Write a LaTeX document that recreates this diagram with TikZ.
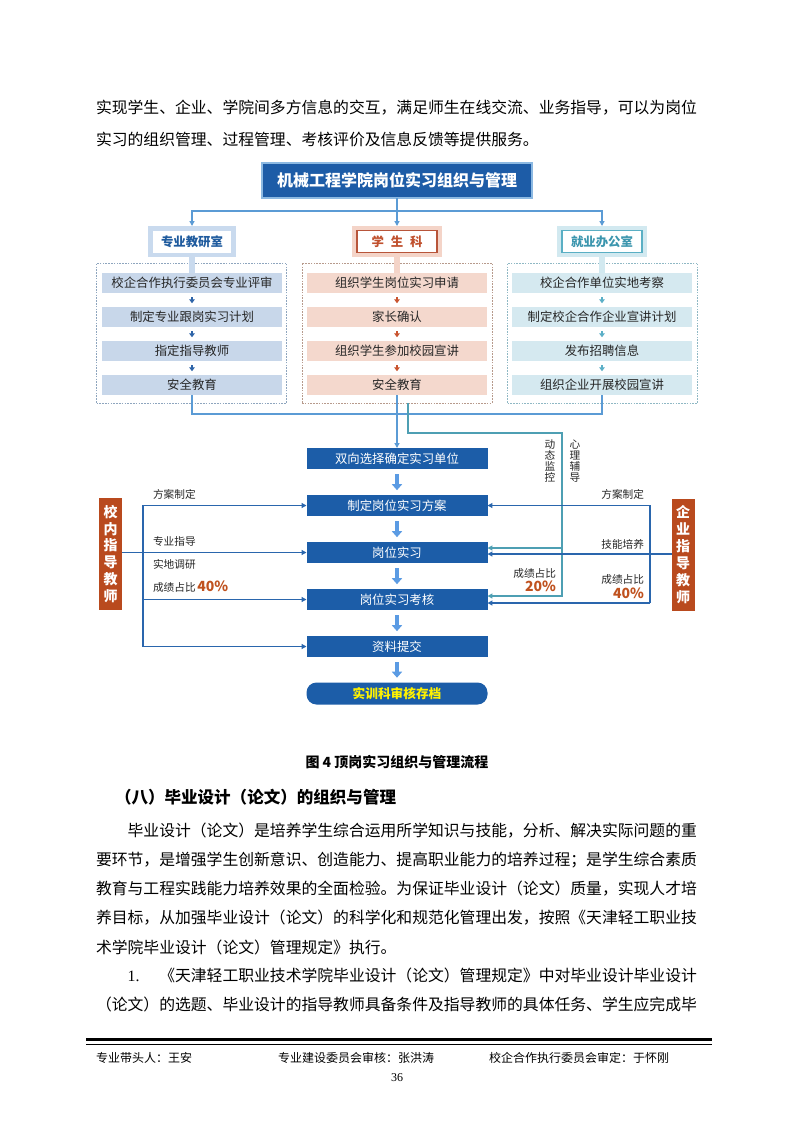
\documentclass[tikz,border=0pt]{standalone}
\usepackage{fontspec}
\setmainfont{Noto Sans CJK SC}
\newfontfamily\serifnum{Liberation Serif}
\usetikzlibrary{arrows.meta,calc}
\definecolor{titleblue}{HTML}{1D5CA7}
\definecolor{mainblue}{HTML}{1C5DA8}
\definecolor{fatarrow}{HTML}{5B9BE3}
\definecolor{topline}{HTML}{5B9BD5}
\definecolor{dkline}{HTML}{2A66AD}
\definecolor{tealline}{HTML}{4E9FB3}
\definecolor{redbox}{HTML}{B94A1E}
\definecolor{pct}{HTML}{C0521F}
\definecolor{lframe}{HTML}{C9DAEE}
\definecolor{ltext}{HTML}{1F5B9E}
\definecolor{lrow}{HTML}{C8D7EA}
\definecolor{larrow}{HTML}{2E64A8}
\definecolor{ldash}{HTML}{8EA5BE}
\definecolor{mframe}{HTML}{F4D4C8}
\definecolor{mborder}{HTML}{B8553A}
\definecolor{mtext}{HTML}{C0502D}
\definecolor{mrow}{HTML}{F4D8CD}
\definecolor{marrow}{HTML}{C9542F}
\definecolor{mdash}{HTML}{B79A8C}
\definecolor{rframe}{HTML}{D2E9F0}
\definecolor{rborder}{HTML}{5AAFC4}
\definecolor{rtext}{HTML}{3C96AE}
\definecolor{rrow}{HTML}{D5E9F0}
\definecolor{rarrow}{HTML}{5BAFC7}
\definecolor{rdash}{HTML}{8FB8C4}
\definecolor{inktext}{HTML}{262626}
\begin{document}
\begin{tikzpicture}[x=0.75pt,y=-0.75pt,
  every node/.style={inner sep=0pt,outer sep=0pt},
  bodytxt/.style={anchor=west,font=\fontsize{11.86pt}{12pt}\selectfont,text=black},
  mainbox/.style={fill=mainblue,minimum width=135.75pt,minimum height=15.75pt,text=white,font=\fontsize{9.3pt}{10pt}\selectfont},
  rowbox/.style={minimum width=135pt,minimum height=15pt,text=inktext,font=\fontsize{9.3pt}{10pt}\selectfont},
  dashbox/.style={draw,dash pattern=on 1.2pt off 0.9pt,line width=0.6pt,minimum width=142.5pt,minimum height=105pt},
  hdrouter/.style={minimum width=66pt,minimum height=23.25pt},
  hdrinner/.style={fill=white,minimum width=58.5pt,minimum height=16.5pt,font=\bfseries\fontsize{9.3pt}{10pt}\selectfont,line width=0.8pt},
  stem/.style={line width=4.5pt},
  smallarrow/.style={line width=1.4pt,-{Triangle[length=3pt,width=4.2pt]},shorten <=3pt,shorten >=2.8pt},
  fatarrowstyle/.style={draw=fatarrow,line width=2.6pt,-{Triangle[length=4.5pt,width=7.5pt]},shorten <=3.8pt,shorten >=3.6pt},
  tip/.style={-{Triangle[length=3.6pt,width=3.6pt]}},
  bline/.style={draw=topline,line width=1pt},
  dline/.style={draw=dkline,line width=1pt},
  tline/.style={draw=tealline,line width=1pt},
  redteacher/.style={fill=redbox,minimum width=17.25pt,minimum height=84pt,text=white,align=center,font=\bfseries\fontsize{10.5pt}{12.7pt}\selectfont},
  lbl/.style={text=inktext,font=\fontsize{8pt}{9pt}\selectfont},
  pcttxt/.style={text=pct,font=\bfseries\fontsize{10.5pt}{11pt}\selectfont},
  vlbl/.style={text=inktext,align=center,font=\fontsize{8pt}{8.1pt}\selectfont},
  foot/.style={anchor=west,text=black,font=\fontsize{9pt}{10pt}\selectfont}
]
\fill[white] (0,0) rectangle (793,1122);
\useasboundingbox (0,0) rectangle (793,1122);

% ---------- top paragraph ----------
\node[bodytxt] (p1) at (96,108) {实现学生、企业、学院间多方信息的交互，满足师生在线交流、业务指导，可以为岗位};
\node[bodytxt] (p2) at (96,139) {实习的组织管理、过程管理、考核评价及信息反馈等提供服务。};

% ---------- title ----------
\node[fill=titleblue,draw=topline!70,line width=0.8pt,minimum width=202.5pt,minimum height=26.25pt,text=white,font=\bfseries\fontsize{12pt}{13pt}\selectfont] (title) at (397,180.5) {机械工程学院岗位实习组织与管理};

% ---------- dashed group boxes ----------
\node[dashbox,draw=ldash] (d1) at (191.5,333) {};
\node[dashbox,draw=mdash] (d2) at (397,333) {};
\node[dashbox,draw=rdash] (d3) at (602.5,333) {};

% ---------- rows ----------
\node[rowbox,fill=lrow] (r11) at (192,283) {校企合作执行委员会专业评审};
\node[rowbox,fill=lrow] (r12) at (192,317) {制定专业跟岗实习计划};
\node[rowbox,fill=lrow] (r13) at (192,351) {指定指导教师};
\node[rowbox,fill=lrow] (r14) at (192,385) {安全教育};
\node[rowbox,fill=mrow] (r21) at (397,283) {组织学生岗位实习申请};
\node[rowbox,fill=mrow] (r22) at (397,317) {家长确认};
\node[rowbox,fill=mrow] (r23) at (397,351) {组织学生参加校园宣讲};
\node[rowbox,fill=mrow] (r24) at (397,385) {安全教育};
\node[rowbox,fill=rrow] (r31) at (602,283) {校企合作单位实地考察};
\node[rowbox,fill=rrow] (r32) at (602,317) {制定校企合作企业宣讲计划};
\node[rowbox,fill=rrow] (r33) at (602,351) {发布招聘信息};
\node[rowbox,fill=rrow] (r34) at (602,385) {组织企业开展校园宣讲};

\draw[smallarrow,draw=larrow] (r11.south) -- (r12.north);
\draw[smallarrow,draw=larrow] (r12.south) -- (r13.north);
\draw[smallarrow,draw=larrow] (r13.south) -- (r14.north);
\draw[smallarrow,draw=marrow] (r21.south) -- (r22.north);
\draw[smallarrow,draw=marrow] (r22.south) -- (r23.north);
\draw[smallarrow,draw=marrow] (r23.south) -- (r24.north);
\draw[smallarrow,draw=rarrow] (r31.south) -- (r32.north);
\draw[smallarrow,draw=rarrow] (r32.south) -- (r33.north);
\draw[smallarrow,draw=rarrow] (r33.south) -- (r34.north);

% ---------- headers ----------
\node[hdrouter,fill=lframe] (h1o) at (192,241.5) {};
\node[hdrouter,fill=mframe,minimum width=68pt] (h2o) at (397,241.5) {};
\node[hdrouter,fill=rframe,minimum width=68pt] (h3o) at (602,241.5) {};
\node[hdrinner,text=ltext] (h1) at (h1o.center) {专业教研室};
\node[hdrinner,draw=mborder,text=mtext,minimum width=60pt] (h2) at (h2o.center) {学\hspace{0.55em}生\hspace{0.55em}科};
\node[hdrinner,draw=rborder,text=rtext,minimum width=60pt] (h3) at (h3o.center) {就业办公室};

\draw[stem,draw=lframe] (h1o.south) -- (r11.north);
\draw[stem,draw=mframe] (h2o.south) -- (r21.north);
\draw[stem,draw=rframe] (h3o.south) -- (r31.north);

% ---------- title connectors ----------
\path (title.south) ++(0,13) coordinate (tj);
\draw[bline,tip] (title.south) -- (h2o.north);
\draw[bline,tip] (tj) -| (h1o.north);
\draw[bline,tip] (tj) -| (h3o.north);

% ---------- main flow ----------
\node[mainbox] (m1) at (397,458.5) {双向选择确定实习单位};
\node[mainbox] (m2) at (397,505.5) {制定岗位实习方案};
\node[mainbox] (m3) at (397,552.5) {岗位实习};
\node[mainbox] (m4) at (397,599.5) {岗位实习考核};
\node[mainbox] (m5) at (397,646.5) {资料提交};
\node[mainbox,rounded corners=7.5pt,minimum height=16.5pt,text=yellow,font=\bfseries\fontsize{9.5pt}{10pt}\selectfont] (m6) at (397,693.5) {实训科审核存档};

\draw[fatarrowstyle] (m1.south) -- (m2.north);
\draw[fatarrowstyle] (m2.south) -- (m3.north);
\draw[fatarrowstyle] (m3.south) -- (m4.north);
\draw[fatarrowstyle] (m4.south) -- (m5.north);
\draw[fatarrowstyle] (m5.south) -- (m6.north);

% groups to main flow
\draw[bline] (r14.south) -- ++(0,19) -| (r34.south);
\draw[bline,tip] (r24.south) -- (m1.north);

\coordinate (tx) at (562,0);
\coordinate (tdown) at ($(d2.south)+(11,30)$);
\draw[tline,tip] ($(d2.south)+(11,0)$) -- (tdown) -| ($(tx |- m4.east)+(0,-3.5)$) -- ($(m4.east)+(0,-3.5)$);
\draw[tline,tip] ($(tx |- m3.east)+(0,-4.5)$) -- ($(m3.east)+(0,-4.5)$);

\node[vlbl] (v1) at (550,461) {动\\态\\监\\控};
\node[vlbl] (v2) at (575,461) {心\\理\\辅\\导};

% ---------- teachers ----------
\node[redteacher] (lt) at (110.5,554) {校\\内\\指\\导\\教\\师};
\node[redteacher] (rt) at (683,554.5) {企\\业\\指\\导\\教\\师};

\coordinate (lx) at (143,0);
\draw[dline,tip] (lt.east |- m3.west) -- (m3.west);
\draw[dline,tip] (lx |- m5.west) |- (m2.west);
\draw[dline,tip] (lx |- m4.west) -- (m4.west);
\draw[dline,tip] (lx |- m5.west) -- (m5.west);

\coordinate (rx) at (650,0);
\draw[dline,tip] ($(rx |- m4.east)+(0,3.5)$) |- (m2.east);
\draw[dline,tip] ($(rx |- m4.east)+(0,3.5)$) -- ($(m4.east)+(0,3.5)$);
\draw[dline,tip] ($(rt.west |- m3.east)+(0,1.5)$) -- ($(m3.east)+(0,1.5)$);

\node[lbl,anchor=west] (la) at (153,494) {方案制定};
\node[lbl,anchor=west] (lb) at (153,541) {专业指导};
\node[lbl,anchor=west] (lc) at (153,564) {实地调研};
\node[lbl,anchor=west] (ld) at (153,587) {成绩占比\,{\color{pct}\bfseries\fontsize{10.5pt}{11pt}\selectfont 40\%}};

\node[lbl,anchor=east] (ra) at (644,494) {方案制定};
\node[lbl,anchor=east] (rb) at (644,544) {技能培养};
\node[lbl,anchor=east] (rc) at (644,579) {成绩占比};
\node[pcttxt,anchor=east] (rd) at (644,593) {40\%};
\node[lbl,anchor=east] (mc) at (556,573) {成绩占比};
\node[pcttxt,anchor=east] (md) at (556,586) {20\%};

% ---------- caption and text ----------
\node[font=\bfseries\fontsize{10.5pt}{11pt}\selectfont] (cap) at (397,762) {图 4 顶岗实习组织与管理流程};
\node[anchor=west,font=\bfseries\fontsize{12.4pt}{13pt}\selectfont] (hd) at (115,797) {（八）毕业设计（论文）的组织与管理};
\node[bodytxt] (b1) at (96,831) {\hspace*{2em}毕业设计（论文）是培养学生综合运用所学知识与技能，分析、解决实际问题的重};
\node[bodytxt] (b2) at (96,860) {要环节，是增强学生创新意识、创造能力、提高职业能力的培养过程；是学生综合素质};
\node[bodytxt] (b3) at (96,889) {教育与工程实践能力培养效果的全面检验。为保证毕业设计（论文）质量，实现人才培};
\node[bodytxt] (b4) at (96,918) {养目标，从加强毕业设计（论文）的科学化和规范化管理出发，按照《天津轻工职业技};
\node[bodytxt] (b5) at (96,947) {术学院毕业设计（论文）管理规定》执行。};
\node[bodytxt] (b6) at (96,975) {\hspace*{2em}\makebox[2em][l]{\serifnum 1.}《天津轻工职业技术学院毕业设计（论文）管理规定》中对毕业设计毕业设计};
\node[bodytxt] (b7) at (96,1004) {（论文）的选题、毕业设计的指导教师具备条件及指导教师的具体任务、学生应完成毕};

% ---------- footer ----------
\draw[line width=2.25pt] (86,1039) -- (712,1039);
\draw[line width=0.75pt] (86,1044) -- (712,1044);
\node[foot] (f1) at (96,1058) {专业带头人：王安};
\node[foot] (f2) at (278,1058) {专业建设委员会审核：张洪涛};
\node[foot] (f3) at (489,1058) {校企合作执行委员会审定：于怀刚};
\node[font=\serifnum\fontsize{9pt}{10pt}\selectfont] (pg) at (397,1078) {36};
\end{tikzpicture}
\end{document}
